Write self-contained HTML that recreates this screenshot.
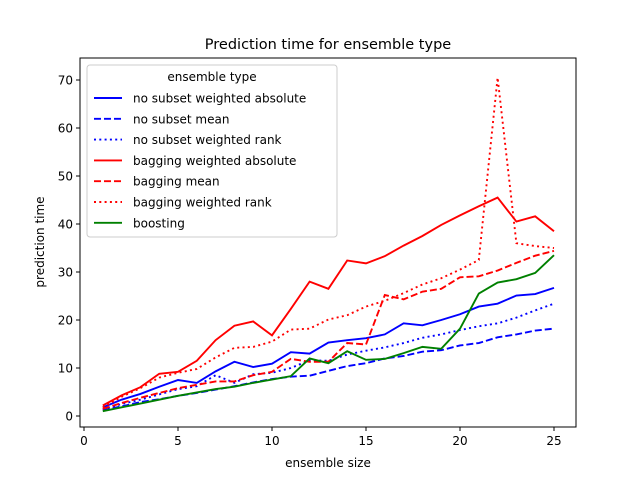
<!DOCTYPE html>
<html><head><meta charset="utf-8"><style>
body{margin:0;background:#fff}
svg{font-family:"DejaVu Sans","Liberation Sans",sans-serif}
</style></head><body>
<svg id="chart" width="640" height="480">
<rect width="640" height="480" fill="#fff"/>
<text x="328" y="49" font-size="14.5" text-anchor="middle">Prediction time for ensemble type</text>
<g id="marks"></g>
<rect x="80" y="58" width="496" height="369" fill="none" stroke="#000" stroke-width="1"/>
<g id="axes" font-size="12"></g>
<text x="328" y="467" font-size="12" text-anchor="middle">ensemble size</text>
<text transform="translate(44,242) rotate(-90)" font-size="12" text-anchor="middle">prediction time</text>
<g id="legend"></g>
</svg>
<script>
const sizes=[1,2,3,4,5,6,7,8,9,10,11,12,13,14,15,16,17,18,19,20,21,22,23,24,25];
const noSubsetAbs=[1.8,3.4,4.6,6.1,7.5,6.9,9.3,11.3,10.2,10.9,13.3,13,15.3,15.8,16.2,17,19.3,18.9,20,21.2,22.8,23.4,25.1,25.4,26.7];
const noSubsetMean=[1.2,2,2.9,3.5,4.2,4.8,5.5,6.2,7,7.7,8.2,8.4,9.4,10.4,11,12,12.5,13.4,13.7,14.7,15.2,16.4,17,17.8,18.2];
const noSubsetRank=[1.4,2.5,3.4,4.5,5.6,6.2,8.5,6.9,8.7,9,10,11.6,11.5,12.8,13.6,14.3,15.2,16.3,17,17.9,18.7,19.3,20.5,22,23.4];
const baggingAbs=[2.2,4.3,6,8.8,9.2,11.5,15.8,18.8,19.7,16.8,22.3,28,26.5,32.4,31.8,33.3,35.5,37.5,39.8,41.8,43.7,45.5,40.5,41.6,38.5];
const baggingMean=[1.5,2.7,3.8,4.8,5.8,6.5,7.2,7.2,8.5,9.2,11.9,11.3,11.3,15.2,14.9,25.2,24.3,25.9,26.5,28.9,29.1,30.3,31.9,33.4,34.4];
const baggingRank=[1.8,4,5.8,8,9,9.8,12.2,14.2,14.4,15.5,18,18.2,20.1,21,22.8,24,25.6,27.4,28.7,30.5,32.5,70.5,36,35.4,35];
const boosting=[1,1.8,2.6,3.4,4.2,4.9,5.6,6.1,6.9,7.6,8.3,12,11,13.5,11.7,11.9,13.1,14.4,14,18.2,25.5,27.8,28.5,29.8,33.5];
const xTicks=[0,5,10,15,20,25];
const yTicks=[0,10,20,30,40,50,60,70];
const seriesNames=["no subset weighted absolute","no subset mean","no subset weighted rank","bagging weighted absolute","bagging mean","bagging weighted rank","boosting"];
const NS="http://www.w3.org/2000/svg";
const xS=v=>84+v*18.8, yS=v=>416-v*4.8;
const series=[
 [noSubsetAbs,"#0000ff",""],[noSubsetMean,"#0000ff","7,3"],[noSubsetRank,"#0000ff","2,3.3"],
 [baggingAbs,"#ff0000",""],[baggingMean,"#ff0000","7,3"],[baggingRank,"#ff0000","2,3.3"],
 [boosting,"#008000",""]];
const keys=["no-subset-weighted-absolute","no-subset-mean","no-subset-weighted-rank","bagging-weighted-absolute","bagging-mean","bagging-weighted-rank","boosting"];
const marks=document.getElementById('marks');
series.forEach((s,i)=>{
 const p=document.createElementNS(NS,'polyline');
 p.setAttribute('points',s[0].map((v,j)=>xS(sizes[j])+','+yS(v)).join(' '));
 p.setAttribute('fill','none');p.setAttribute('stroke',s[1]);p.setAttribute('stroke-width','1.9');
 if(s[2])p.setAttribute('stroke-dasharray',s[2]);
 
 
 marks.appendChild(p);
});
const axes=document.getElementById('axes');
xTicks.forEach(t=>{
 const l=document.createElementNS(NS,'line');
 l.setAttribute('x1',xS(t));l.setAttribute('x2',xS(t));l.setAttribute('y1',427);l.setAttribute('y2',431);l.setAttribute('stroke','#000');
 
 
 axes.appendChild(l);
 const tx=document.createElementNS(NS,'text');
 tx.setAttribute('x',xS(t));tx.setAttribute('y',445);tx.setAttribute('text-anchor','middle');tx.textContent=t;
 
 
 axes.appendChild(tx);
});
yTicks.forEach(t=>{
 const l=document.createElementNS(NS,'line');
 l.setAttribute('x1',76);l.setAttribute('x2',80);l.setAttribute('y1',yS(t));l.setAttribute('y2',yS(t));l.setAttribute('stroke','#000');
 
 
 axes.appendChild(l);
 const tx=document.createElementNS(NS,'text');
 tx.setAttribute('x',73);tx.setAttribute('y',yS(t)+4.5);tx.setAttribute('text-anchor','end');tx.textContent=t;
 
 
 axes.appendChild(tx);
});
const lg=document.getElementById('legend');


lg.innerHTML='<rect x="87" y="65" width="250" height="172" rx="3" fill="#fff" fill-opacity="0.8" stroke="#ccc"/><text x="212" y="81" font-size="12" text-anchor="middle">ensemble type</text>';
series.forEach((s,i)=>{
 const y=98+i*20.8;
 const g=document.createElementNS(NS,'g');
 
 
 g.innerHTML='<line x1="94" x2="122" y1="'+y+'" y2="'+y+'" stroke="'+s[1]+'" stroke-width="1.9" '+(s[2]?'stroke-dasharray="'+s[2]+'"':'')+'/><text x="133" y="'+(y+4.5)+'" font-size="12">'+seriesNames[i]+'</text>';
 lg.appendChild(g);
});
</script>
</body></html>
